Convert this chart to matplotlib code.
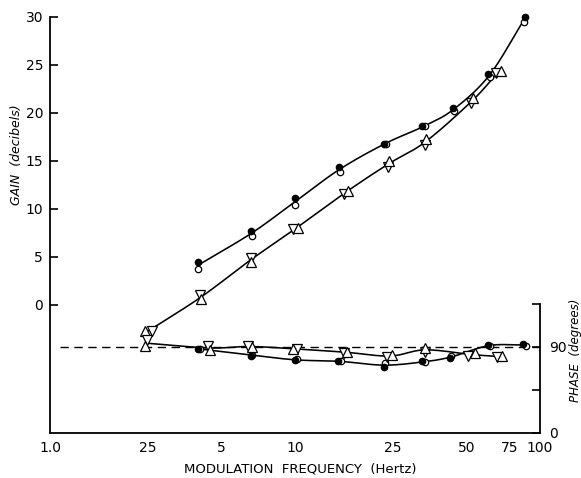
import numpy as np
import matplotlib
matplotlib.use("Agg")
import matplotlib.pyplot as plt

# ---------------- data ----------------
xticks = [1.0, 2.5, 5, 10, 25, 50, 75, 100]
xtick_labels = ["1.0", "25", "5", "10", "25", "50", "75", "100"]
gain_ticks = [0, 5, 10, 15, 20, 25, 30]
phase_ticks = [0, 45, 90, 135]
phase_tick_labels = ["0", "", "90", ""]

# Gain, filled circles
gf_f = [4.0, 6.6, 10.0, 15.1, 23.0, 33.0, 44.0, 61.5, 86.5]
gf_g = [4.5, 7.7, 11.1, 14.4, 16.8, 18.6, 20.5, 24.1, 30.0]
# Gain, open circles
go_f = [4.0, 6.65, 10.0, 15.2, 23.6, 34.0, 44.5, 62.5, 86.0]
go_g = [3.7, 7.2, 10.4, 13.8, 16.8, 18.6, 20.2, 23.7, 29.5]
# Gain, down triangles
gd_f = [2.6, 4.1, 6.6, 9.8, 15.9, 24.0, 34.0, 52.5, 66.0]
gd_g = [-2.7, 1.0, 4.9, 7.9, 11.6, 14.4, 16.7, 21.0, 24.2]
# Gain, up triangles
gu_f = [2.45, 4.15, 6.6, 10.3, 16.4, 24.2, 34.2, 53.5, 69.5]
gu_g = [-2.7, 0.6, 4.5, 8.0, 11.9, 15.0, 17.3, 21.6, 24.4]

# Phase, filled circles
pf_f = [4.0, 6.6, 10.0, 15.0, 23.0, 33.0, 43.0, 61.5, 85.0]
pf_p = [88, 81, 76, 75, 69, 75, 78, 92, 93]
# Phase, open circles
po_f = [4.1, 6.7, 10.2, 15.4, 23.2, 34.0, 43.5, 62.5, 88.0]
po_p = [88, 82, 77, 75, 73, 74, 81, 91, 91]
# Phase, down triangles
pd_f = [2.5, 4.4, 6.4, 10.2, 15.9, 23.8, 34.0, 50.8, 66.5]
pd_p = [97, 91, 91, 88, 84, 79.5, 85, 80.5, 79.5]
# Phase, up triangles
pu_f = [2.45, 4.5, 6.7, 9.8, 16.3, 25.0, 34.0, 54.5, 70.0]
pu_p = [91, 87, 90, 88, 85, 81.6, 89, 83.7, 80.5]

ref_phase = 90
ref_start = 1.1


def smooth(fs, vs, n=20):
    """Catmull-Rom curve through the points in (log f, value) space."""
    x = np.log10(np.asarray(fs, float))
    y = np.asarray(vs, float)
    P = np.column_stack([x, y])
    P = np.vstack([2 * P[0] - P[1], P, 2 * P[-1] - P[-2]])
    out = []
    for i in range(1, len(P) - 2):
        p0, p1, p2, p3 = P[i - 1], P[i], P[i + 1], P[i + 2]
        t = np.linspace(0, 1, n, endpoint=False)[:, None]
        c = 0.5 * ((2 * p1) + (-p0 + p2) * t + (2 * p0 - 5 * p1 + 4 * p2 - p3) * t ** 2
                   + (-p0 + 3 * p1 - 3 * p2 + p3) * t ** 3)
        out.append(c)
    out.append(P[-2][None, :])
    c = np.vstack(out)
    return 10 ** c[:, 0], c[:, 1]


def mean_pair(f1, v1, f2, v2):
    f = np.sqrt(np.asarray(f1) * np.asarray(f2))
    v = (np.asarray(v1) + np.asarray(v2)) / 2
    return f, v


# ---------------- figure ----------------
W, H = 581, 478
fig = plt.figure(figsize=(W / 100, H / 100), dpi=100)
ax = fig.add_axes([50 / W, 1 - 433 / H, 490 / W, 416 / H])
ax2 = ax.twinx()

ax.set_xscale("log")
ax.set_xlim(1.0, 100)
ax.set_ylim(-13.35, 30)
ax2.set_ylim(0, 435.3)

lw = 1.15
ms_c = 4.6
ms_t = 6.6
mk = dict(mec="black", mew=0.9, clip_on=False, linestyle="none")

# gain curves
fx, vx = smooth(*mean_pair(gf_f, gf_g, go_f, go_g))
ax.plot(fx, vx, color="black", lw=lw, zorder=2)
fx, vx = smooth(*mean_pair(gd_f, gd_g, gu_f, gu_g))
ax.plot(fx, vx, color="black", lw=lw, zorder=2)

ax.plot(go_f, go_g, marker="o", ms=ms_c, mfc="white", zorder=3, **mk)
ax.plot(gf_f, gf_g, marker="o", ms=ms_c, mfc="black", zorder=4, **mk)
ax.plot(gd_f, gd_g, marker="v", ms=ms_t, mfc="white", zorder=3, **mk)
ax.plot(gu_f, gu_g, marker="^", ms=ms_t, mfc="white", zorder=3, **mk)

# phase curves
ax2.plot([ref_start, 100], [ref_phase, ref_phase], color="black", lw=1.0,
         dashes=(6, 4), zorder=1)
fx, vx = smooth(*mean_pair(pf_f, pf_p, po_f, po_p))
ax2.plot(fx, vx, color="black", lw=lw, zorder=2)
fx, vx = smooth(*mean_pair(pd_f, pd_p, pu_f, pu_p))
ax2.plot(fx, vx, color="black", lw=lw, zorder=2)
ax2.plot(po_f, po_p, marker="o", ms=ms_c, mfc="white", zorder=3, **mk)
ax2.plot(pf_f, pf_p, marker="o", ms=ms_c, mfc="black", zorder=4, **mk)
ax2.plot(pd_f, pd_p, marker="v", ms=ms_t, mfc="white", zorder=3, **mk)
ax2.plot(pu_f, pu_p, marker="^", ms=ms_t, mfc="white", zorder=3, **mk)

# spines
for s in ["top", "right"]:
    ax.spines[s].set_visible(False)
for s in ["top", "left", "bottom"]:
    ax2.spines[s].set_visible(False)
ax.spines["left"].set_linewidth(1.3)
ax.spines["bottom"].set_linewidth(1.3)
ax2.spines["right"].set_linewidth(1.3)
ax2.spines["right"].set_bounds(0, 135)

# ticks
ax.set_xticks(xticks)
ax.set_xticklabels(xtick_labels)
ax.xaxis.set_minor_locator(matplotlib.ticker.NullLocator())
ax.set_yticks(gain_ticks)
ax.tick_params(axis="y", direction="in", length=6, width=1.2, labelsize=10, pad=5)
ax.tick_params(axis="x", direction="in", length=0, width=1.2, labelsize=10, pad=6)
ax2.set_yticks(phase_ticks)
ax2.set_yticklabels(phase_tick_labels)
ax2.tick_params(axis="y", direction="in", length=6, width=1.2, labelsize=10, pad=6.5)

# labels
fig.text(17 / W, 1 - 155 / H, "GAIN  (decibels)", rotation=90, style="italic",
         fontsize=9, ha="center", va="center")
fig.text(575 / W, 1 - 350 / H, "PHASE  (degrees)", rotation=90, style="italic",
         fontsize=8.5, ha="center", va="center")
fig.text(300 / W, 1 - 469 / H, "MODULATION  FREQUENCY  (Hertz)",
         fontsize=9.5, ha="center", va="center")

fig.savefig("out.png", dpi=100)
